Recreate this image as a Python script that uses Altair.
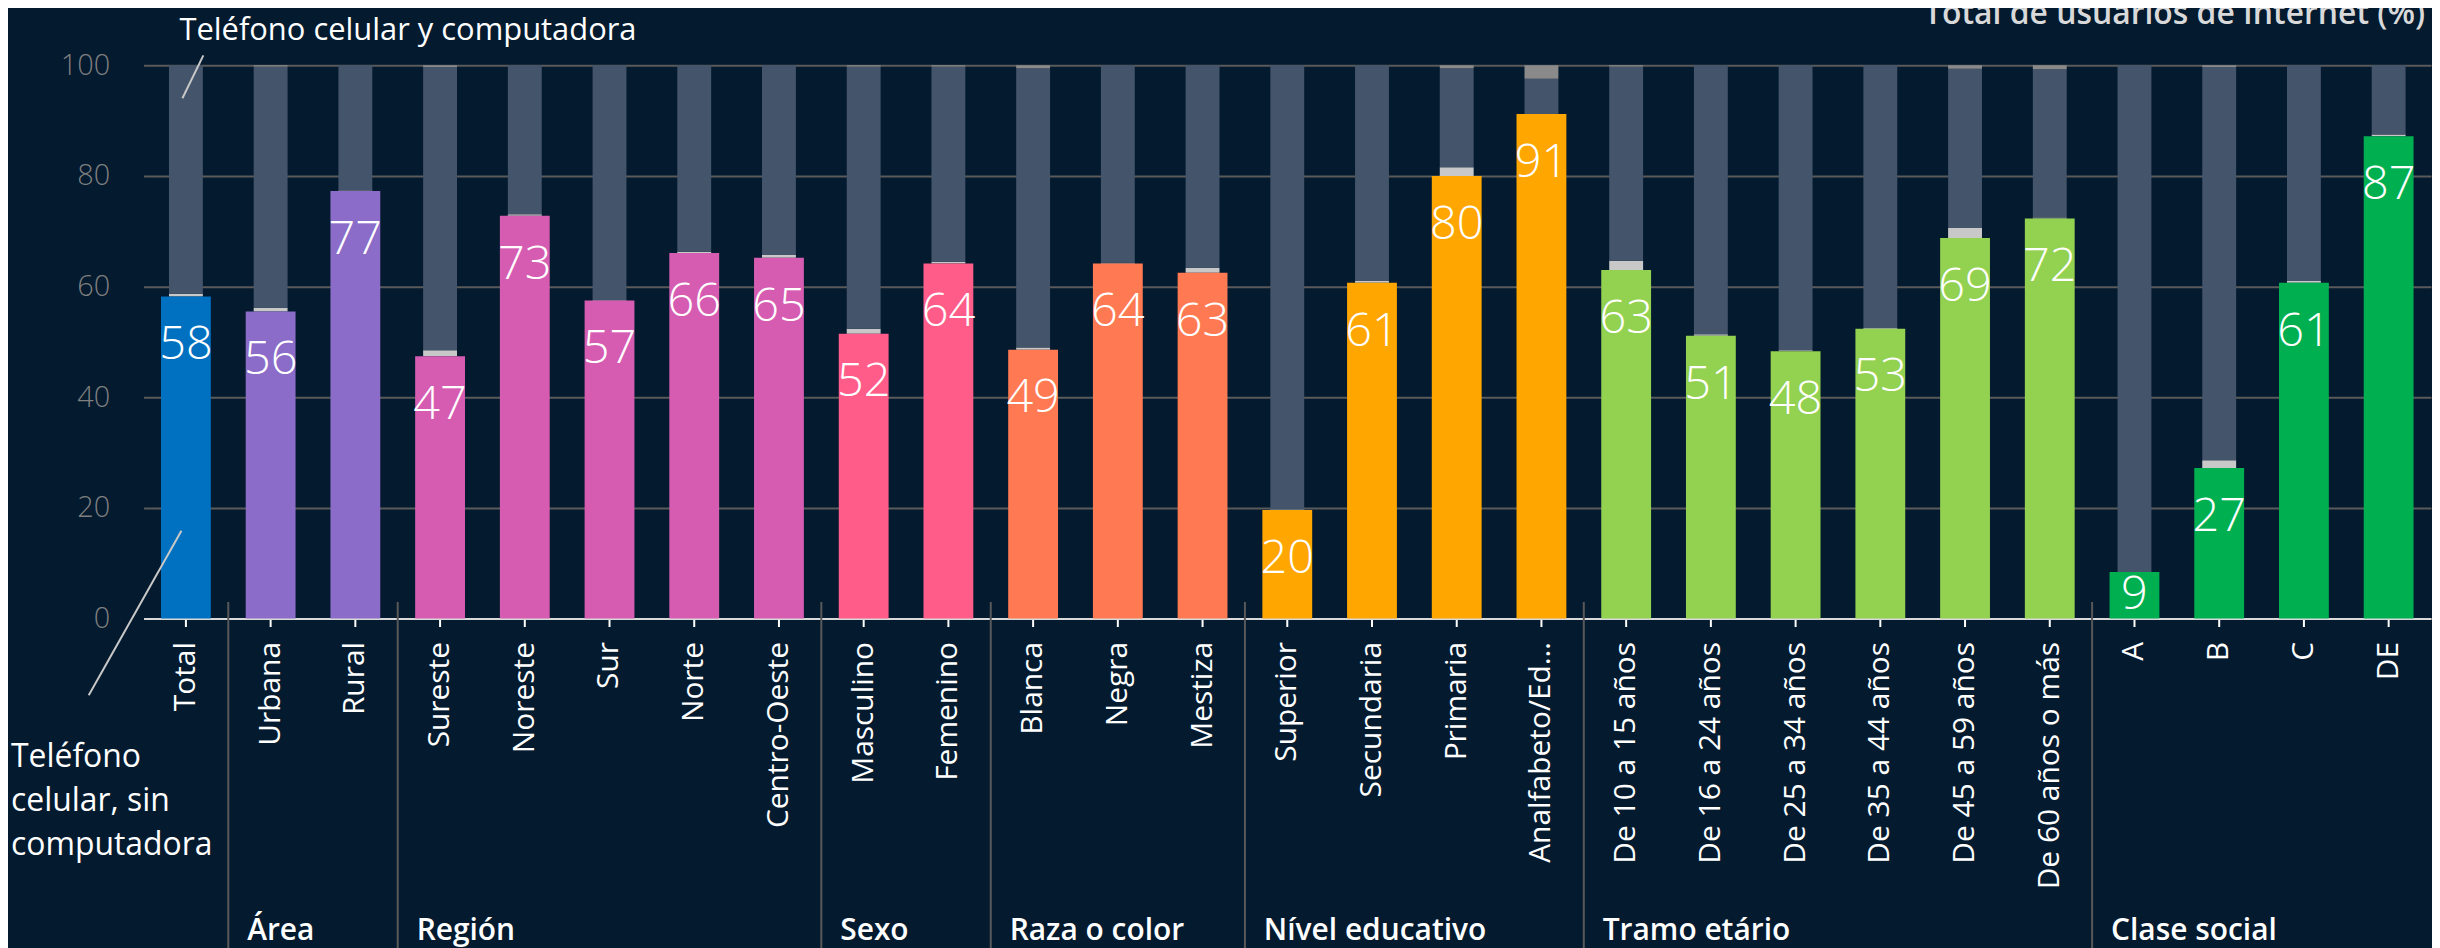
import altair as alt
import pandas as pd

# ---------------- data ----------------
categories = ["Total", "Urbana", "Rural", "Sureste", "Noreste", "Sur", "Norte", "Centro-Oeste",
              "Masculino", "Femenino", "Blanca", "Negra", "Mestiza",
              "Superior", "Secundaria", "Primaria", "Analfabeto/Ed…",
              "De 10 a 15 años", "De 16 a 24 años", "De 25 a 34 años", "De 35 a 44 años",
              "De 45 a 59 años", "De 60 años o más", "A", "B", "C", "DE"]
groups = ["Total", "Área", "Área", "Región", "Región", "Región", "Región", "Región",
          "Sexo", "Sexo", "Raza o color", "Raza o color", "Raza o color",
          "Nível educativo", "Nível educativo", "Nível educativo", "Nível educativo",
          "Tramo etário", "Tramo etário", "Tramo etário", "Tramo etário", "Tramo etário", "Tramo etário",
          "Clase social", "Clase social", "Clase social", "Clase social"]
# Teléfono celular, sin computadora (%)
celular_sin_comp = [58.2, 55.5, 77.3, 47.4, 72.8, 57.5, 66.1, 65.2, 51.5, 64.2, 48.6, 64.2, 62.5,
                    19.6, 60.7, 80.0, 91.2, 63.0, 51.1, 48.3, 52.4, 68.8, 72.3, 8.4, 27.2, 60.7, 87.2]
value_labels = [58, 56, 77, 47, 73, 57, 66, 65, 52, 64, 49, 64, 63,
                20, 61, 80, 91, 63, 51, 48, 53, 69, 72, 9, 27, 61, 87]
# Computadora, sin teléfono celular (%)
comp_sin_celular = [0.5, 0.7, 0.1, 1.1, 0.3, 0.1, 0.2, 0.5, 0.9, 0.3, 0.4, 0.1, 0.9,
                    0.1, 0.3, 1.6, 0.0, 1.7, 0.3, 0.2, 0.1, 1.8, 0.2, 0.0, 1.4, 0.3, 0.3]
# Otros dispositivos (%)
otros = [0.0, 0.2, 0.0, 0.3, 0.0, 0.0, 0.0, 0.0, 0.2, 0.2, 0.5, 0.0, 0.0,
         0.0, 0.0, 0.5, 2.4, 0.2, 0.0, 0.0, 0.0, 0.6, 0.7, 0.0, 0.3, 0.0, 0.0]

group_names = ["Total", "Área", "Región", "Sexo", "Raza o color", "Nível educativo", "Tramo etário", "Clase social"]
group_colors = ["#0070c0", "#8b6cc8", "#d65cb2", "#ff5c8a", "#ff7a52", "#ffa600", "#93d150", "#00b050"]

seg_names = ["Computadora, sin celular", "Teléfono celular y computadora", "Otros"]
seg_colors = ["#c8c8c8", "#44546a", "#8a8a8a"]

# ---------------- tables ----------------
df = pd.DataFrame({"cat": categories, "grupo": groups, "valor": celular_sin_comp,
                   "etiqueta": value_labels})

rows = []
for c, v, cs, o in zip(categories, celular_sin_comp, comp_sin_celular, otros):
    if cs > 0:
        rows.append({"cat": c, "seg": seg_names[0], "y0": v, "y1": v + cs})
    rows.append({"cat": c, "seg": seg_names[1], "y0": v + cs, "y1": 100 - o})
    if o > 0:
        rows.append({"cat": c, "seg": seg_names[2], "y0": 100 - o, "y1": 100})
segs = pd.DataFrame(rows)

firsts = []
seen = set()
for c, g in zip(categories, groups):
    if g not in seen:
        seen.add(g)
        if g != "Total":
            firsts.append({"cat": c, "grupo": g})
gdf = pd.DataFrame(firsts)

one = pd.DataFrame({"k": [0]})

FONT = "Open Sans"
W, H = 2295, 555

xscale = alt.Scale(domain=categories, paddingInner=0, paddingOuter=0)
yscale = alt.Scale(domain=[0, 100], nice=False)

x_axis = alt.Axis(title=None, labelAngle=-90, labelFontSize=30, labelFont=FONT, labelColor="#ffffff",
                  tickColor="#ffffff", tickSize=8, tickWidth=2, domainColor="#d9d9d9", domainWidth=2,
                  labelPadding=15, labelLimit=500, grid=False)
y_axis = alt.Axis(title=None, values=[0, 20, 40, 60, 80, 100], domain=False, ticks=False, grid=True,
                  gridColor="#5a5a5a", gridWidth=2, labelFontSize=29, labelFont=FONT,
                  labelFontWeight=300, labelColor="#7f7f7f", labelPadding=34)

narrow = alt.Chart(segs).mark_bar(size=34).encode(
    x=alt.X("cat:N", sort=categories, scale=xscale, axis=x_axis),
    y=alt.Y("y0:Q", scale=yscale, axis=y_axis),
    y2="y1:Q",
    color=alt.Color("seg:N", scale=alt.Scale(domain=seg_names, range=seg_colors), legend=None),
)

wide = alt.Chart(df).mark_bar(size=50).encode(
    x=alt.X("cat:N", sort=categories),
    y=alt.Y("valor:Q"),
    color=alt.Color("grupo:N", scale=alt.Scale(domain=group_names, range=group_colors), legend=None),
)

labels_big = alt.Chart(df).transform_filter("datum.valor >= 12").mark_text(
    font=FONT, fontSize=47, fontWeight=300, color="#ffffff", baseline="middle", dy=49
).encode(x=alt.X("cat:N", sort=categories), y="valor:Q", text="etiqueta:Q")

labels_small = alt.Chart(df).transform_filter("datum.valor < 12").transform_calculate(
    mid="datum.valor / 2").mark_text(
    font=FONT, fontSize=47, fontWeight=300, color="#ffffff", baseline="middle"
).encode(x=alt.X("cat:N", sort=categories), y="mid:Q", text="etiqueta:Q")

separators = alt.Chart(gdf).mark_rule(color="#595959", strokeWidth=2).encode(
    x=alt.X("cat:N", sort=categories, bandPosition=0),
    y=alt.datum(3),
    y2=alt.value(H + 340),
)

group_text = alt.Chart(gdf).mark_text(
    font=FONT, fontSize=30, fontWeight=600, color="#ffffff", align="left", baseline="alphabetic", dx=19
).encode(
    x=alt.X("cat:N", sort=categories, bandPosition=0),
    y=alt.value(878),
    text="grupo:N",
)

ann_top = alt.Chart(one).mark_text(
    font=FONT, fontSize=31, color="#ffffff", align="left", baseline="alphabetic"
).encode(x=alt.value(36), y=alt.value(-25), text=alt.value("Teléfono celular y computadora"))

ann_top_line = alt.Chart(one).mark_rule(color="#c8c8c8", strokeWidth=2).encode(
    x=alt.value(60), y=alt.value(-10), x2=alt.value(39), y2=alt.value(33))

ann_bot = alt.Chart(one).mark_text(
    font=FONT, fontSize=32, color="#ffffff", align="left", baseline="alphabetic",
    lineBreak="\n", lineHeight=44
).encode(x=alt.value(-133), y=alt.value(704),
         text=alt.value("Teléfono\ncelular, sin\ncomputadora"))

ann_bot_line = alt.Chart(one).mark_rule(color="#c8c8c8", strokeWidth=2).encode(
    x=alt.value(38), y=alt.value(467), x2=alt.value(-55), y2=alt.value(632))

title_text = alt.Chart(one).mark_text(
    font=FONT, fontSize=32, fontWeight=600, color="#d9d9d9", align="right", baseline="alphabetic"
).encode(x=alt.value(2289), y=alt.value(-41), text=alt.value("Total de usuarios de Internet (%)"))

chart = alt.layer(
    narrow, wide, labels_big, labels_small, separators, group_text,
    ann_top, ann_top_line, ann_bot, ann_bot_line, title_text
).resolve_scale(color="independent").properties(
    width=W, height=H,
    autosize=alt.AutoSizeParams(type="none"),
    padding={"left": 136, "top": 56, "right": 1, "bottom": 329},
    background="#031a2f",
).configure_view(stroke=None)

chart.save("out.html", embed_options={"renderer": "svg", "actions": False})
